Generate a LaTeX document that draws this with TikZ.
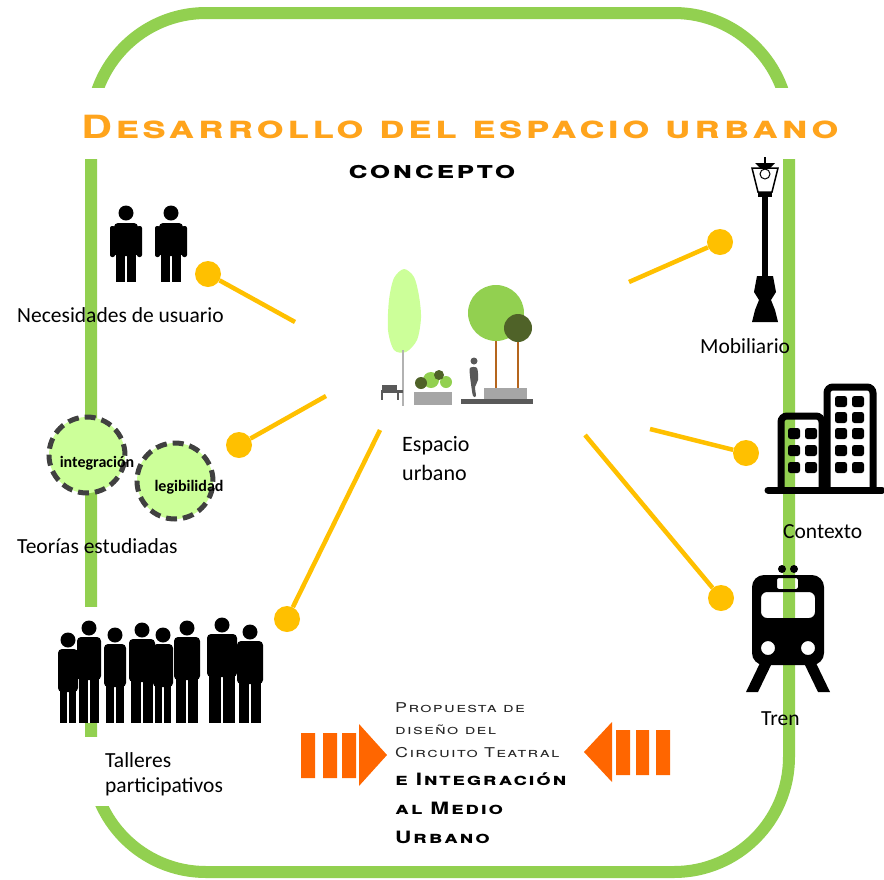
\documentclass[tikz,border=0pt]{standalone}
\usepackage{fontspec}
\setmainfont{Carlito}
\newfontfamily\rotulo[FakeStretch=1.33,LetterSpace=10]{TeX Gyre Heros}
\definecolor{verde}{HTML}{92D050}
\definecolor{verdeclaro}{HTML}{CCFF99}
\definecolor{verdeosc}{HTML}{4F6228}
\definecolor{amarillo}{HTML}{FFC000}
\definecolor{naranja}{HTML}{FF6600}
\definecolor{tituloc}{HTML}{FFA41C}
\definecolor{grisosc}{HTML}{404040}
\definecolor{gris}{HTML}{595959}
\definecolor{grisclaro}{HTML}{A6A6A6}
\definecolor{tronco}{HTML}{B5651D}
\tikzset{
  marco/.style={draw=verde,line width=12pt,rounded corners=115pt},
  punto/.style={circle,fill=amarillo,minimum size=26pt,inner sep=0pt},
  enlace/.style={draw=amarillo,line width=4.5pt},
  etiqueta/.style={font=\fontsize{21.5}{25}\selectfont,anchor=base west,inner sep=0pt,align=left},
  teoria/.style={circle,fill=verdeclaro,draw=grisosc,line width=5pt,
    dash pattern=on 11pt off 6pt,minimum size=76pt,inner sep=0pt},
  teotexto/.style={font=\bfseries\fontsize{16}{16}\selectfont,inner sep=0pt},
}
\newcommand{\silueta}[3]{%
  \fill (#1,#2) circle (7.5pt);
  \fill[rounded corners=4pt] (#1-#3,#2+9) rectangle (#1+#3,#2+52);
  \fill (#1-#3+2,#2+48) rectangle (#1-1,723);
  \fill (#1+1,#2+48) rectangle (#1+#3-2,723);
}
\begin{document}
\begin{tikzpicture}[x=1pt,y=-1pt]
  \useasboundingbox (0,0) rectangle (884,879);
  \draw[marco] (91,13) rectangle (789,872);
  \fill[white] (0,88) rectangle (884,159);
  \fill[white] (56,607) rectangle (282,723);
  \fill[white] (78,737) rectangle (112,806);

  \node (titulo) at (460,138) [anchor=base,inner sep=0pt,text=tituloc,
    font=\rotulo\bfseries\fontsize{32}{32}\selectfont\scshape] {Desarrollo del espacio urbano};
  \node (concepto) at (432,178) [anchor=base,inner sep=0pt,
    font=\rotulo\bfseries\fontsize{24}{24}\selectfont\scshape] {concepto};

  % espacio urbano
  \fill[verdeclaro] plot[smooth cycle] coordinates {(404,269) (414,277) (419,296) (421,318)
    (417,340) (406,352) (394,350) (388,330) (389,300) (394,278)};
  \draw[gray!60,line width=2pt] (403,350) -- (403,406);
  \fill[gris] (382,385) rectangle (397,390);
  \fill[gris] (381,390) rectangle (403,393);
  \fill[gris] (381,393) rectangle (383,400);
  \fill[gris] (397,393) rectangle (399,400);
  \fill[grisclaro] (414,392) rectangle (452,405);
  \fill[verde] (431,380) circle (8pt);
  \fill[verde] (446,382) circle (6pt);
  \fill[verdeosc] (421,383) circle (6pt);
  \fill[verdeosc] (439,375) circle (5pt);
  \fill[gris] (461,399) rectangle (533,404);
  \fill[gris] (474,361) circle (3.5pt);
  \fill[gris] plot[smooth cycle] coordinates {(470,368) (477,368) (478,380) (475,387)
    (476,396) (473,396) (471,384) (470,376)};
  \draw[tronco,line width=2pt] (496,335) -- (496,389) (518,340) -- (518,389);
  \fill[verde] (496,313) circle (28pt);
  \fill[verdeosc] (518,328) circle (14pt);
  \fill[grisclaro] (484,388) rectangle (527,399);
  \node (espacio) at (402,480) [etiqueta,font=\fontsize{22}{29}\selectfont] {Espacio\\urbano};

  % usuario
  \foreach \x in {126,171} {
    \fill (\x,213) circle (7.5pt);
    \fill[rounded corners=4pt] (\x-12,223) rectangle (\x+12,256);
    \fill[rounded corners=2pt] (\x-16,226) rectangle (\x-11,257);
    \fill[rounded corners=2pt] (\x+11,226) rectangle (\x+16,257);
    \fill (\x-10,250) rectangle (\x-1,282);
    \fill (\x+1,250) rectangle (\x+10,282);
  }
  \node (usuario) at (17,322) [etiqueta] {Necesidades de usuario};

  % teorias
  \node (integ) at (87,455) [teoria] {};
  \node (legib) at (175,481) [teoria] {};
  \node (tinteg) at (97,463) [teotexto] {integración};
  \node (tlegib) at (189,487) [teotexto] {legibilidad};
  \node (teorias) at (17,553) [etiqueta] {Teorías estudiadas};

  % talleres
  \silueta{68}{640}{10}
  \silueta{89}{628}{12}
  \silueta{115}{635}{11}
  \silueta{142}{630}{13}
  \silueta{163}{635}{10}
  \silueta{187}{628}{13}
  \silueta{222}{625}{15}
  \silueta{250}{632}{13}
  \node (talleres) at (105,792) [etiqueta] {Talleres\\participativos};

  % mobiliario
  \fill (764,157) rectangle (766,163);
  \fill (755,163) -- (775,163) -- (770,168) -- (760,168) -- cycle;
  \draw[line width=1.5pt] (752,168) -- (778,168) -- (772,192) -- (758,192) -- cycle;
  \draw[line width=1pt] (765,174) circle (5pt);
  \fill (758,192) rectangle (772,197);
  \fill (762,197) rectangle (768,276);
  \fill (757,276) -- (773,276) -- (776,292) -- (771,300) -- (775,310) -- (778,322)
    -- (752,322) -- (755,310) -- (759,300) -- (754,292) -- cycle;
  \node (mobiliario) at (700,353) [etiqueta] {Mobiliario};

  % contexto
  \draw[line width=7pt,rounded corners=6pt] (781,490) -- (781,416) -- (822,416) -- (822,490);
  \draw[line width=7pt,rounded corners=6pt] (827,490) -- (827,387) -- (873,387) -- (873,490);
  \draw[line width=7pt,line cap=round] (768,490) -- (882,490);
  \foreach \y in {428,445,462}
    \foreach \x in {788,805}
      \fill[rounded corners=2.5pt] (\x,\y) rectangle ++(12,11);
  \foreach \y in {396,412,428,445,462}
    \foreach \x in {835,852}
      \fill[rounded corners=2.5pt] (\x,\y) rectangle ++(12,11);
  \node (contexto) at (783,538) [etiqueta] {Contexto};

  % tren
  \fill (782,569) circle (4pt);
  \fill (794,569) circle (4pt);
  \fill[even odd rule,rounded corners=12pt] (752,575) rectangle (824,665)
    [rounded corners=6pt] (761,592) rectangle (815,618)
    [rounded corners=2pt] (777,578) rectangle (798,589)
    (768,648) circle (7pt) (808,648) circle (7pt);
  \fill (760,663) -- (772,663) -- (758,692) -- (746,692) -- cycle;
  \fill (816,663) -- (804,663) -- (818,692) -- (830,692) -- cycle;
  \node (tren) at (761,725) [etiqueta] {Tren};

  % enlaces
  \node (pusr) at (208,274) [punto] {};
  \node (pteo) at (239,445) [punto] {};
  \node (ptal) at (287,619) [punto] {};
  \node (pmob) at (720,242) [punto] {};
  \node (pctx) at (746,453) [punto] {};
  \node (ptren) at (721,598) [punto] {};
  \coordinate (eusr) at (295,322);
  \coordinate (eteo) at (326,396);
  \coordinate (etal) at (380,430);
  \coordinate (emob) at (629,282);
  \coordinate (ectx) at (650,429);
  \coordinate (etren) at (585,435);
  \begin{scope}[enlace]
    \draw (pusr) -- (eusr);
    \draw (pteo) -- (eteo);
    \draw (ptal) -- (etal);
    \draw (pmob) -- (emob);
    \draw (pctx) -- (ectx);
    \draw (ptren) -- (etren);
  \end{scope}

  % propuesta
  \fill[naranja] (301,733) rectangle (315,778) (323,733) rectangle (337,778)
    (342,733) rectangle (356,778);
  \fill[naranja] (359,724) -- (387,755) -- (359,786) -- cycle;
  \fill[naranja] (616,730) rectangle (630,775) (636,730) rectangle (649,775)
    (656,730) rectangle (670,775);
  \fill[naranja] (612,722) -- (584,752) -- (612,782) -- cycle;
  \node (prop1) at (395,757) [anchor=base west,inner sep=0pt,text=black!85,
    font=\rotulo\fontsize{13.5}{22.5}\selectfont\scshape,align=left]
    {Propuesta de\\diseño del\\Circuito Teatral};
  \node (prop2) at (395,843) [anchor=base west,inner sep=0pt,
    font=\rotulo\bfseries\fontsize{17}{29}\selectfont\scshape,align=left]
    {e Integración\\al Medio\\Urbano};
\end{tikzpicture}
\end{document}
